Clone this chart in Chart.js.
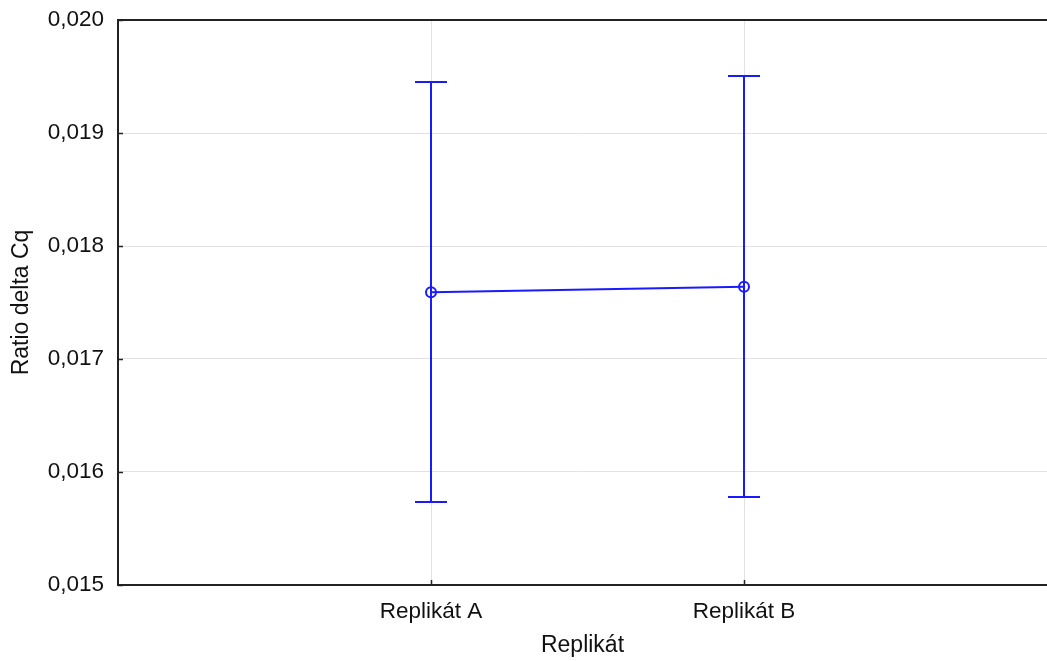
<!DOCTYPE html>
<html>
<head>
<meta charset="utf-8">
<script src="https://cdn.jsdelivr.net/npm/chart.js@4.4.0/dist/chart.umd.min.js"></script>
<style>
  body { margin: 0; background: #fff; overflow: hidden; }
</style>
</head>
<body>
<canvas id="myChart" width="1047" height="661"></canvas>
<script>
const categories = ['Replikát A', 'Replikát B'];
const means = [0.01759, 0.01764];
const upper = [0.019455, 0.019508];
const lower = [0.015731, 0.015778];
const yTicks = [0.015, 0.016, 0.017, 0.018, 0.019, 0.020];

const blue = '#1a1aff';
const fontFamily = '"Liberation Sans", Arial, sans-serif';

// vertical error bars with caps, drawn through the chart scales
const errorBars = {
  id: 'errorBars',
  beforeDatasetsDraw(chart) {
    const ctx = chart.ctx;
    const x = chart.scales.x;
    const y = chart.scales.y;
    ctx.save();
    ctx.strokeStyle = blue;
    ctx.lineWidth = 2;
    categories.forEach((c, i) => {
      const px = Math.round(x.getPixelForValue(i));
      const top = Math.round(y.getPixelForValue(upper[i]));
      const bot = Math.round(y.getPixelForValue(lower[i]));
      ctx.beginPath();
      ctx.moveTo(px, top); ctx.lineTo(px, bot);
      ctx.moveTo(px - 16, top); ctx.lineTo(px + 16, top);
      ctx.moveTo(px - 16, bot); ctx.lineTo(px + 16, bot);
      ctx.stroke();
    });
    ctx.restore();
  }
};

// frame on left, top, bottom plus small inward ticks
const frame = {
  id: 'frame',
  afterDraw(chart) {
    const ctx = chart.ctx;
    const a = chart.chartArea;
    const x = chart.scales.x;
    const y = chart.scales.y;
    ctx.save();
    ctx.strokeStyle = '#222';
    ctx.lineWidth = 2;
    ctx.beginPath();
    ctx.moveTo(a.right, a.top); ctx.lineTo(a.left, a.top);
    ctx.lineTo(a.left, a.bottom); ctx.lineTo(a.right, a.bottom);
    ctx.stroke();
    ctx.lineWidth = 1.5;
    ctx.beginPath();
    yTicks.forEach(v => {
      const py = Math.round(y.getPixelForValue(v)) + 0.5;
      ctx.moveTo(a.left, py); ctx.lineTo(a.left + 5, py);
    });
    categories.forEach((c, i) => {
      const px = Math.round(x.getPixelForValue(i)) + 0.5;
      ctx.moveTo(px, a.bottom); ctx.lineTo(px, a.bottom - 5);
    });
    ctx.stroke();
    ctx.restore();
  }
};

new Chart(document.getElementById('myChart'), {
  type: 'line',
  data: {
    datasets: [{
      data: means.map((m, i) => ({ x: i, y: m })),
      borderColor: blue,
      borderWidth: 2,
      pointStyle: 'circle',
      pointRadius: 5,
      pointBorderWidth: 2,
      pointBorderColor: blue,
      pointBackgroundColor: 'rgba(0,0,0,0)',
      tension: 0
    }]
  },
  options: {
    responsive: false,
    animation: false,
    devicePixelRatio: 1,
    layout: { autoPadding: false, padding: { top: 20, right: 0, bottom: 0, left: 0 } },
    plugins: { legend: { display: false }, tooltip: { enabled: false } },
    scales: {
      x: {
        type: 'linear',
        min: -1,
        max: 1.968,
        afterBuildTicks: s => { s.ticks = categories.map((c, i) => ({ value: i })); },
        afterFit: s => { s.height = 76; s.paddingLeft = 0; s.paddingRight = 0; },
        ticks: {
          callback: v => categories[v],
          color: '#111',
          font: { family: fontFamily, size: 22.5 },
          padding: 13,
          maxRotation: 0
        },
        grid: { color: '#e2e2e2', lineWidth: 1, drawTicks: false },
        border: { display: false },
        title: {
          display: true,
          text: 'Replikát',
          color: '#111',
          font: { family: fontFamily, size: 23 },
          padding: { top: 0, bottom: 2 }
        }
      },
      y: {
        min: 0.015,
        max: 0.020,
        afterBuildTicks: s => { s.ticks = yTicks.map(v => ({ value: v })); },
        afterFit: s => { s.width = 118; s.paddingTop = 0; s.paddingBottom = 0; },
        ticks: {
          callback: v => v.toFixed(3).replace('.', ','),
          color: '#111',
          font: { family: fontFamily, size: 22.5 },
          padding: 14
        },
        grid: { color: '#e2e2e2', lineWidth: 1, drawTicks: false },
        border: { display: false },
        title: {
          display: true,
          text: 'Ratio delta Cq',
          color: '#111',
          font: { family: fontFamily, size: 23 },
          padding: { top: 8, bottom: 0 }
        }
      }
    }
  },
  plugins: [errorBars, frame]
});
</script>
</body>
</html>
